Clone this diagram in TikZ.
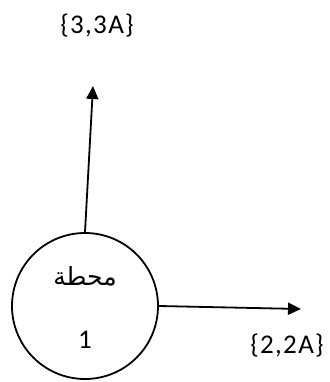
\documentclass[tikz,border=0pt]{standalone}
\usepackage{fontspec}
\setmainfont{Carlito}
\newfontfamily\spacedfont[LetterSpace=5]{Carlito}
\newfontfamily\arabicfont[Script=Arabic]{DejaVu Sans}
\TeXXeTstate=1
\usetikzlibrary{arrows.meta}
\begin{document}
\begin{tikzpicture}[x=1pt,y=-1pt,
  conn/.style={line width=1.8pt,-{Triangle[length=13pt,width=12pt]}},
  lbl/.style={font=\spacedfont\fontsize{27}{32}\selectfont,inner sep=0pt}]
\useasboundingbox (0,0) rectangle (329,382);
\node[circle,draw,line width=1.8pt,minimum size=146pt,inner sep=0pt] (st) at (85,306) {};
\node[inner sep=0pt] (name) at (85,276) {\arabicfont\fontsize{25}{30}\selectfont\beginR محطة\endR};
\node[lbl] (num) at (85,340) {1};
\coordinate (top) at (93,86);
\coordinate (right) at (301,309);
\draw[conn] (st.north) -- (top);
\draw[conn] (st.east) -- (right);
\node[lbl] (l3) at (97,26) {\{3,3A\}};
\node[lbl] (l2) at (287,346) {\{2,2A\}};
\end{tikzpicture}
\end{document}
